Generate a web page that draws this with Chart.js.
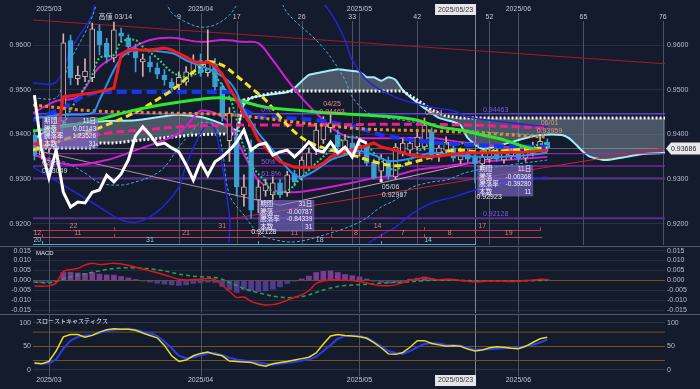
<!DOCTYPE html>
<html lang="ja">
<head>
<meta charset="utf-8">
<title>EUR/CHF 日足チャート</title>
<script src="https://cdn.jsdelivr.net/npm/chart.js@4.4.1/dist/chart.umd.min.js"></script>
<style>
  html, body { margin: 0; padding: 0; background: #141b2d; }
  #wrap { position: relative; width: 700px; height: 389px; background: #141b2d; overflow: hidden; }
  canvas { position: absolute; left: 0; }
  #cMain { top: 0; }
  #cMacd { top: 247px; }
  #cStoch { top: 315px; }
  .sep { position: absolute; left: 0; width: 700px; height: 1px; background: #535a6b; }
</style>
</head>
<body>
<div id="wrap">
  <canvas id="cMain" width="700" height="246"></canvas>
  <div class="sep" style="top:246px"></div>
  <canvas id="cMacd" width="700" height="67"></canvas>
  <div class="sep" style="top:314px"></div>
  <canvas id="cStoch" width="700" height="74"></canvas>
</div>
<script>
// ---- data (bar index 0 = 2025/02/27, 71 = 2025/06/06) ----
const xMin = -0.2, xMax = 87.3;
const monthMarks = [[2, '2025/03'], [23, '2025/04'], [45, '2025/05'], [67, '2025/06']];
const countMarks = [[20, '9'], [28, '17'], [37, '26'], [44, '33'], [53, '42'], [63, '52'], [76, '65'], [87, '76']];
const cursorIndex = 61;
const cursorLabel = '2025/05/23';
const currentPrice = 0.93686;

const candleOpen = [0.9399,0.9354,0.9370,0.9395,0.9430,0.9610,0.9525,0.9529,0.9527,0.9631,
  0.9604,0.9571,0.9627,0.9616,0.9593,0.9562,0.9562,0.9549,0.9533,0.9517,
  0.9511,0.9517,0.9540,0.9565,0.9538,0.9558,0.9507,0.9386,0.9394,0.9265,
  0.9372,0.9254,0.9274,0.9265,0.9292,0.9270,0.9312,0.9305,0.9327,0.9365,
  0.9388,0.9415,0.9399,0.9365,0.9381,0.9361,0.9372,0.9338,0.9318,0.9341,
  0.9305,0.9360,0.9365,0.9372,0.9372,0.9406,0.9350,0.9365,0.9370,0.9343,
  0.9361,0.9352,0.9334,0.9345,0.9363,0.9343,0.9352,0.9365,0.9347,0.9358,
  0.9370,0.9383];
const candleHigh = [0.9410,0.9385,0.9405,0.9440,0.9625,0.9622,0.9553,0.9569,0.9649,0.9645,
  0.9615,0.9651,0.9638,0.9623,0.9602,0.9580,0.9575,0.9560,0.9545,0.9525,
  0.9540,0.9552,0.9578,0.9580,0.9634,0.9570,0.9515,0.9460,0.9410,0.9310,
  0.9388,0.9298,0.9300,0.9305,0.9300,0.9318,0.9320,0.9350,0.9370,0.9425,
  0.9440,0.9446,0.9410,0.9400,0.9392,0.9388,0.9380,0.9345,0.9355,0.9350,
  0.9380,0.9390,0.9392,0.9405,0.9437,0.9415,0.9380,0.9395,0.9378,0.9370,
  0.9368,0.9360,0.9360,0.9370,0.9372,0.9365,0.9372,0.9374,0.9370,0.9383,
  0.9396,0.9390];
const candleLow = [0.9343,0.9345,0.9360,0.9385,0.9420,0.9511,0.9511,0.9518,0.9518,0.9578,
  0.9560,0.9562,0.9607,0.9578,0.9540,0.9530,0.9540,0.9525,0.9510,0.9495,
  0.9498,0.9510,0.9535,0.9530,0.9530,0.9500,0.9430,0.9340,0.9262,0.9240,
  0.9213,0.9225,0.9262,0.9255,0.9258,0.9262,0.9285,0.9298,0.9320,0.9355,
  0.9380,0.9405,0.9365,0.9358,0.9350,0.9352,0.9330,0.9300,0.9297,0.9300,
  0.9300,0.9352,0.9358,0.9365,0.9365,0.9343,0.9340,0.9358,0.9340,0.9335,
  0.9338,0.9292,0.9325,0.9338,0.9340,0.9336,0.9345,0.9340,0.9340,0.9352,
  0.9363,0.9362];
const candleClose = [0.9354,0.9370,0.9395,0.9425,0.9605,0.9527,0.9532,0.9542,0.9636,0.9600,
  0.9573,0.9634,0.9620,0.9596,0.9571,0.9569,0.9551,0.9535,0.9522,0.9504,
  0.9528,0.9540,0.9562,0.9538,0.9565,0.9507,0.9440,0.9448,0.9283,0.9283,
  0.9231,0.9283,0.9288,0.9292,0.9265,0.9310,0.9294,0.9343,0.9359,0.9410,
  0.9426,0.9426,0.9372,0.9388,0.9359,0.9375,0.9336,0.9303,0.9347,0.9307,
  0.9372,0.9381,0.9381,0.9394,0.9421,0.9350,0.9370,0.9383,0.9347,0.9361,
  0.9345,0.9334,0.9352,0.9361,0.9345,0.9358,0.9365,0.9347,0.9363,0.9374,
  0.9385,0.9369];

// chikou span (white line), index 0..46
const chikouSpan = [0.9488,0.9365,0.9303,0.9365,0.9271,0.9238,0.9249,0.9247,0.9271,0.9276,
  0.9309,0.9294,0.9312,0.9343,0.9397,0.9417,0.9399,0.9377,0.9381,0.9370,
  0.9361,0.9332,0.9298,0.9339,0.9309,0.9339,0.9350,0.9365,0.9383,0.9410,
  0.9365,0.9377,0.9381,0.9354,0.9361,0.9365,0.9350,0.9365,0.9383,0.9365,
  0.9361,0.9383,0.9359,0.9372,0.9350,0.9388,0.9381];

// indicator lines as [bar index, price]
const tenkanLine = [[0,0.9378],[3,0.9385],[4,0.9484],[8,0.9493],[10,0.9499],[11,0.9504],[12,0.9578],[13,0.9589],[16,0.9589],[18,0.9593],[19,0.9589],[21,0.9573],[22,0.9564],[23,0.9560],[24,0.9562],[25,0.9553],[26,0.9535],[27,0.9504],[28,0.9477],[29,0.9444],[30,0.9421],[31,0.9388],[33,0.9354],[34,0.9339],[36,0.9327],[39,0.9327],[40,0.9336],[41,0.9350],[43,0.9361],[45,0.9370],[47,0.9381],[48,0.9372],[50,0.9365],[52,0.9354],[54,0.9350],[56,0.9352],[58,0.9356],[60,0.9359],[64,0.9359],[68,0.9361],[71,0.9365]];
const kijunLine = [[0,0.9437],[4,0.9444],[8,0.9448],[9,0.9477],[10,0.9511],[11,0.9544],[12,0.9571],[13,0.9584],[14,0.9589],[19,0.9582],[21,0.9566],[23,0.9553],[25,0.9540],[27,0.9517],[28,0.9493],[29,0.9455],[30,0.9428],[31,0.9403],[33,0.9365],[35,0.9325],[36,0.9309],[37,0.9305],[39,0.9321],[41,0.9343],[43,0.9354],[45,0.9363],[47,0.9354],[49,0.9341],[51,0.9343],[53,0.9350],[55,0.9359],[58,0.9354],[62,0.9350],[67,0.9352],[71,0.9359]];
const spanA = [[-0.2,0.9388],[2,0.9412],[4,0.9421],[7,0.9426],[10,0.9430],[14,0.9432],[18,0.9441],[20,0.9444],[23,0.9439],[25,0.9430],[27,0.9417],[28,0.9410],[29,0.9466],[30,0.9482],[32,0.9488],[35,0.9495],[36,0.9504],[38,0.9533],[40,0.9540],[42,0.9546],[43,0.9544],[45,0.9540],[46,0.9528],[47,0.9528],[48,0.9520],[49,0.9528],[50,0.9522],[51,0.9499],[52,0.9484],[54,0.9459],[56,0.9437],[58,0.9428],[59,0.9421],[60,0.9392],[62,0.9368],[64,0.9374],[66,0.9383],[68,0.9392],[70,0.9399],[73,0.9399],[74,0.9392],[75,0.9377],[76,0.9361],[77,0.9350],[79,0.9343],[82,0.9350],[84,0.9356],[87.3,0.9359]];
const spanB = [[-0.2,0.9370],[8,0.9370],[9,0.9381],[11,0.9381],[15,0.9388],[22,0.9399],[25,0.9401],[28,0.9401],[29,0.9477],[31,0.9486],[33,0.9493],[36,0.9497],[51,0.9497],[53,0.9477],[55,0.9455],[57,0.9441],[59,0.9437],[87.3,0.9437]];
const maLong = [[-0.2,0.9408],[4,0.9417],[8,0.9430],[14,0.9455],[19,0.9470],[23,0.9479],[26,0.9482],[28,0.9477],[32,0.9461],[36,0.9455],[41,0.9448],[45,0.9444],[50,0.9439],[53,0.9432],[56,0.9417],[59,0.9410],[62,0.9399],[65,0.9388],[68,0.9372],[71,0.9361]];
const maYellow = [[-0.2,0.9365],[4,0.9388],[9,0.9415],[14,0.9450],[18,0.9488],[20,0.9511],[22,0.9540],[24,0.9562],[26,0.9555],[28,0.9531],[30,0.9504],[32,0.9477],[34,0.9439],[36,0.9406],[38,0.9383],[41,0.9365],[44,0.9354],[47,0.9339],[50,0.9330],[52,0.9336],[55,0.9350],[58,0.9365],[62,0.9361],[66,0.9365],[71,0.9370]];
const maOrange = [[-0.2,0.9466],[8,0.9453],[18,0.9448],[27,0.9444],[36,0.9428],[41,0.9419],[46,0.9412],[55,0.9408],[62,0.9403],[71,0.9394]];
const maPink = [[-0.2,0.9379],[5,0.9388],[10,0.9403],[15,0.9410],[20,0.9417],[27,0.9421],[40,0.9421],[50,0.9423],[60,0.9421],[71,0.9414]];
const midBlue = [[-0.2,0.9432],[4,0.9459],[7,0.9488],[9,0.9495],[27,0.9495],[29,0.9455],[31,0.9439],[37,0.9435],[40,0.9430],[44,0.9419],[48,0.9399],[52,0.9388],[56,0.9381],[60,0.9377],[65,0.9374],[71,0.9372]];
const maShort = [[-0.2,0.9365],[3,0.9388],[5,0.9455],[8,0.9533],[9,0.9571],[11,0.9578],[12,0.9607],[14,0.9611],[15,0.9596],[17,0.9571],[19,0.9540],[21,0.9528],[22,0.9533],[24,0.9544],[25,0.9531],[27,0.9484],[28,0.9432],[29,0.9370],[30,0.9332],[32,0.9294],[33,0.9271],[35,0.9274],[37,0.9305],[39,0.9336],[41,0.9365],[43,0.9392],[45,0.9392],[47,0.9359],[49,0.9327],[50,0.9321],[52,0.9343],[54,0.9372],[56,0.9381],[58,0.9377],[60,0.9381],[64,0.9365],[68,0.9372],[71,0.9381]];
const band2Upper = [[-0.2,0.9448],[3,0.9475],[6,0.9484],[9,0.9551],[13,0.9589],[16,0.9611],[19,0.9616],[23,0.9607],[26,0.9611],[29,0.9607],[31,0.9604],[33,0.9566],[35,0.9522],[37,0.9482],[39,0.9448],[41,0.9417],[43,0.9397],[45,0.9392],[51,0.9392],[55,0.9392],[59,0.9383],[64,0.9374],[71,0.9365]];
const band2Lower = [[-0.2,0.9354],[5,0.9332],[10,0.9343],[14,0.9365],[18,0.9388],[20,0.9403],[22,0.9437],[23,0.9453],[25,0.9448],[27,0.9426],[28,0.9388],[30,0.9325],[31,0.9298],[33,0.9276],[36,0.9271],[40,0.9280],[44,0.9292],[47,0.9303],[50,0.9309],[53,0.9321],[56,0.9327],[60,0.9336],[65,0.9343],[71,0.9350]];
const band3Upper = [[-0.2,0.9482],[3,0.9482],[4,0.9522],[5,0.9566],[7,0.9627],[8,0.9663],[9,0.9700],[14,0.9760],[18,0.9700],[19,0.9672],[21,0.9651],[23,0.9640],[25,0.9645],[27,0.9667],[28,0.9689],[30,0.9730],[33,0.9730],[35,0.9672],[39,0.9611],[41,0.9573],[43,0.9522],[44,0.9484],[46,0.9450],[48,0.9439],[51,0.9432],[55,0.9421],[60,0.9410],[65,0.9403],[71,0.9399]];
const band3Lower = [[-0.2,0.9354],[4,0.9339],[7,0.9314],[9,0.9292],[12,0.9287],[14,0.9294],[16,0.9305],[18,0.9327],[20,0.9372],[22,0.9410],[23,0.9426],[25,0.9421],[26,0.9365],[27,0.9265],[29,0.9220],[31,0.9180],[33,0.9166],[36,0.9160],[40,0.9175],[45,0.9204],[48,0.9238],[50,0.9254],[52,0.9280],[55,0.9294],[57,0.9298],[60,0.9316],[65,0.9330],[71,0.9343]];
const envUpper = [[-0.2,0.9515],[3,0.9517],[5,0.9589],[6,0.9616],[8,0.9667],[9,0.9720],[20,0.9800],[38,0.9720],[41,0.9672],[43,0.9611],[44,0.9566],[46,0.9522],[48,0.9499],[51,0.9477],[55,0.9461],[58,0.9453],[60,0.9439],[65,0.9428],[71,0.9417]];
const envLower = [[-0.2,0.9327],[4,0.9287],[9,0.9238],[12,0.9209],[14,0.9204],[16,0.9216],[18,0.9242],[20,0.9283],[21,0.9332],[23,0.9403],[24,0.9421],[25,0.9410],[26,0.9332],[27,0.9220],[28,0.9100],[44,0.9100],[46,0.9153],[48,0.9175],[50,0.9193],[52,0.9220],[55,0.9247],[58,0.9260],[61,0.9276],[65,0.9292],[71,0.9305]];
const resistLine = [[-0.2,0.9656],[87.3,0.9558]];
const supportLine = [[27,0.9211],[87.3,0.9370]];
const pinkDownLine = [[-0.2,0.9366],[34,0.9242]];
const pinkUpLine = [[34,0.9242],[71,0.9374]];
const fibLevels = [0.94463, 0.93571, 0.93296, 0.93020, 0.92128];
const fibNames = ['0%', '', '50%', '61.8%', ''];

// day-count cycles [from, to, label]
const highCycle = [[-10,11,'22'],[11,41,'31'],[41,54,'14'],[54,70,'17']];
const swingCycle = [[-10,1,'12'],[1,11,'11'],[11,31,'21'],[31,41,'11'],[41,48,'8'],[48,54,'7'],[54,61,'8'],[61,79,'19']];
const lowCycle = [[-18,1,'20'],[1,31,'31'],[31,48,'18'],[48,61,'14']];

const priceNotes = [
  { i: 11.2, v: 0.96626, lines: ['高値 03/14'], color: '#d2d4dc', align: 'center' },
  { i: 41.2, v: 0.94682, lines: ['04/25', '0.94463'], color: '#e59078', align: 'center' },
  { i: 55.3, v: 0.94480, lines: ['05/14'], color: '#e59078', align: 'center' },
  { i: 71.3, v: 0.94257, lines: ['06/01', '0.93959'], color: '#e59078', align: 'center' },
  { i: 48.1, v: 0.92827, lines: ['05/06', '0.92967'], color: '#cfd3dc', align: 'left' },
  { i: 1.05, v: 0.93363, lines: ['02/28', '0.93049'], color: '#cfd3dc', align: 'left' },
  { i: 30.0, v: 0.91821, lines: ['0.92128'], color: '#e6e6ee', align: 'left' },
  { i: 61.2, v: 0.92603, lines: ['0.92923'], color: '#e6e6ee', align: 'left' }
];
const infoBoxes = [
  { i: 1.05, v: 0.94391, rows: [['期間','11日'],['騰落','0.01143'],['騰落率','1.23526'],['本数','31']] },
  { i: 31.0, v: 0.92536, rows: [['期間','31日'],['騰落','-0.00787'],['騰落率','-0.84339'],['本数','31']] },
  { i: 61.3, v: 0.93318, rows: [['期間','11日'],['騰落','-0.00368'],['騰落率','-0.39280'],['本数','11']] }
];

const macdLine = [-0.0027,-0.0029,-0.0027,-0.0012,0.0045,0.0055,0.0060,0.0078,0.0087,0.0080,
  0.0083,0.0087,0.0083,0.0077,0.0066,0.0058,0.0048,0.0039,0.0028,0.0017,
  0.0006,0.0003,0.0005,0.0006,0.0010,0.0005,-0.0025,-0.0055,-0.0085,-0.0083,
  -0.0105,-0.0117,-0.0123,-0.0121,-0.0113,-0.0099,-0.0085,-0.0072,-0.0050,-0.0015,
  -0.0002,0.0003,0.0003,0.0002,0.0000,-0.0005,-0.0012,-0.0022,-0.0025,-0.0026,
  -0.0022,-0.0012,0.0000,0.0006,0.0015,0.0008,0.0003,0.0006,0.0005,0.0000,
  -0.0004,-0.0007,-0.0005,-0.0003,-0.0002,-0.0004,-0.0005,-0.0004,-0.0001,0.0001,
  0.0006,0.0005];
const signalLine = [-0.0008,-0.0011,-0.0013,-0.0006,0.0008,0.0018,0.0026,0.0033,0.0041,0.0048,
  0.0055,0.0060,0.0063,0.0064,0.0063,0.0061,0.0058,0.0054,0.0048,0.0040,
  0.0032,0.0026,0.0021,0.0019,0.0017,0.0015,0.0006,-0.0010,-0.0025,-0.0040,
  -0.0052,-0.0062,-0.0070,-0.0078,-0.0083,-0.0087,-0.0084,-0.0080,-0.0072,-0.0060,
  -0.0048,-0.0038,-0.0030,-0.0025,-0.0023,-0.0021,-0.0019,-0.0017,-0.0013,-0.0011,
  -0.0009,-0.0008,-0.0006,-0.0003,-0.0001,0.0001,0.0001,0.0002,0.0002,0.0001,
  0.0000,-0.0002,-0.0002,-0.0002,-0.0002,-0.0003,-0.0003,-0.0003,-0.0002,-0.0001,
  0.0000,0.0001];
const macdHist = [-0.0008,-0.0012,-0.0010,-0.0006,0.0040,0.0042,0.0038,0.0036,0.0040,0.0032,
  0.0028,0.0027,0.0020,0.0013,0.0005,-0.0002,-0.0008,-0.0014,-0.0018,-0.0022,
  -0.0025,-0.0022,-0.0015,-0.0012,-0.0008,-0.0010,-0.0030,-0.0045,-0.0060,-0.0045,
  -0.0052,-0.0055,-0.0052,-0.0044,-0.0032,-0.0015,-0.0003,0.0008,0.0022,0.0040,
  0.0046,0.0048,0.0040,0.0030,0.0024,0.0018,0.0008,-0.0004,-0.0010,-0.0014,
  -0.0012,-0.0004,0.0007,0.0012,0.0018,0.0010,0.0003,0.0004,0.0003,-0.0001,
  -0.0004,-0.0005,-0.0003,-0.0001,0.0000,-0.0001,-0.0002,-0.0001,0.0001,0.0002,
  0.0005,0.0004];
const macdTicks = [-0.015,-0.010,-0.005,0,0.005,0.010,0.015];

const stochK = [15,13,18,40,70,75,75,69,73,80,85,87,86,86,84,78,73,68,52,30,
  18,21,30,35,38,33,30,19,18,17,16,11,8,13,16,18,21,24,27,36,
  55,72,75,73,72,70,67,58,47,34,33,37,48,62,62,56,53,50,51,50,
  44,40,42,47,49,48,46,45,50,58,66,69];
const stochD = [14,13,14,22,45,62,70,73,74,78,82,85,86,87,85,81,78,72,60,46,
  30,25,27,31,35,36,31,26,22,20,18,16,13,11,13,15,17,20,22,28,
  40,53,66,72,73,72,68,60,50,40,36,34,40,48,55,57,56,53,52,51,
  47,43,43,44,45,46,47,48,50,53,58,64];
const stochLevels = [20, 80];
const stochTicks = [0, 50, 100];
const mainTicks = [0.92, 0.93, 0.94, 0.95, 0.96];

// ---- styling ----
const FONT = "'Liberation Sans', 'Noto Sans CJK JP', sans-serif";
const BG = '#141b2d';
const UP = '#d4b0b0', DOWN = '#3d9dd4';
Chart.defaults.font.family = FONT;
Chart.defaults.font.size = 7;
Chart.defaults.color = '#b9bec9';

function px(chart, i) { return chart.scales.x.getPixelForValue(i); }
function py(chart, v) { return chart.scales.y.getPixelForValue(v); }
function pts(pairs) { return pairs.map(p => ({ x: p[0], y: p[1] })); }

function line(pairs, color, width, opts) {
  return Object.assign({
    type: 'line', data: pts(pairs), borderColor: color, borderWidth: width,
    pointRadius: 0, fill: false, tension: 0.35, order: 2
  }, opts || {});
}

function yAxis(pos, min, max, ticks, fmt, showGrid, gridColor) {
  return {
    position: pos, min: min, max: max,
    afterBuildTicks: s => { s.ticks = ticks.map(v => ({ value: v })); },
    afterFit: s => { s.width = pos === 'left' ? 33 : 35; s.paddingTop = 0; s.paddingBottom = 0; },
    grid: { display: showGrid, color: gridColor || '#262e3f', drawTicks: false },
    border: { display: false },
    ticks: { padding: 2, autoSkip: false, color: '#b9bec9', font: { size: 7 }, callback: fmt }
  };
}

function vline(ctx, x, y0, y1) {
  const xx = Math.round(x) + 0.5;
  ctx.beginPath(); ctx.moveTo(xx, y0); ctx.lineTo(xx, y1); ctx.stroke();
}

function drawCycleRow(chart, segs, y, endIdx, lineColor, textColor) {
  const ctx = chart.ctx, a = chart.chartArea;
  const xEnd = px(chart, endIdx);
  ctx.strokeStyle = lineColor; ctx.fillStyle = textColor; ctx.lineWidth = 1;
  ctx.textAlign = 'center'; ctx.textBaseline = 'middle';
  segs.forEach(s => {
    const x0 = Math.max(a.left, px(chart, s[0]));
    const x1 = Math.min(xEnd, px(chart, s[1]));
    if (x1 <= x0) return;
    ctx.beginPath(); ctx.moveTo(x0, y + 0.5); ctx.lineTo(x1, y + 0.5); ctx.stroke();
    [s[0], s[1]].forEach(b => {
      const bx = px(chart, b);
      if (bx >= a.left && bx <= xEnd) vline(ctx, bx, y - 3, y + 1);
    });
    ctx.fillText(s[2], (x0 + x1) / 2, y - 3.5);
  });
}

const mainDecor = {
  id: 'mainDecor',
  beforeDatasetsDraw(chart) {
    const ctx = chart.ctx, a = chart.chartArea;
    ctx.save();
    ctx.lineWidth = 1;
    ctx.strokeStyle = '#4b5264';
    monthMarks.forEach(m => vline(ctx, px(chart, m[0]), 13, a.bottom + 2));
    countMarks.forEach(m => vline(ctx, px(chart, m[0]), 21, a.bottom + 2));
    ctx.strokeStyle = '#7d8394';
    vline(ctx, px(chart, cursorIndex), 15, a.bottom + 2);
    ctx.restore();
  },
  afterDatasetsDraw(chart) {
    const ctx = chart.ctx, a = chart.chartArea;
    ctx.save();
    ctx.font = '7px ' + FONT;
    ctx.textBaseline = 'middle';

    // fibonacci / level labels
    ctx.textAlign = 'left';
    ctx.fillStyle = '#9658e0';
    fibLevels.forEach((v, k) => { if (fibNames[k]) ctx.fillText(fibNames[k], px(chart, 31.4), py(chart, v) - 4); });
    ctx.fillStyle = '#7c5ce0';
    ctx.fillText('0.94463', px(chart, 62.1), py(chart, fibLevels[0]) - 4);
    ctx.fillText('0.92128', px(chart, 62.1), py(chart, fibLevels[4]) - 4);

    // day-count rows
    drawCycleRow(chart, highCycle, a.bottom - 13, 70.3, '#c5334a', '#e07c84');
    drawCycleRow(chart, swingCycle, a.bottom - 6, 70.3, '#b84456', '#e07c84');
    drawCycleRow(chart, lowCycle, a.bottom + 1, 61, '#5aa6c6', '#8ec8e0');

    // info boxes
    ctx.font = '6.5px ' + FONT;
    infoBoxes.forEach(b => {
      const x = px(chart, b.i), y = py(chart, b.v);
      const w = 56, rh = 7.6;
      ctx.fillStyle = 'rgba(128,108,205,0.62)';
      ctx.fillRect(x, y, w, rh * 4 + 1);
      ctx.fillStyle = '#f2f0ff';
      b.rows.forEach((r, k) => {
        const ty = y + rh * (k + 0.5) + 0.5;
        ctx.textAlign = 'left'; ctx.fillText(r[0], x + 2, ty);
        ctx.textAlign = 'right'; ctx.fillText(r[1], x + w - 2, ty);
      });
    });
    ctx.font = '7px ' + FONT;

    // price notes
    priceNotes.forEach(n => {
      ctx.fillStyle = n.color; ctx.textAlign = n.align;
      n.lines.forEach((t, k) => ctx.fillText(t, px(chart, n.i), py(chart, n.v) + k * 8));
    });
    ctx.fillStyle = '#e8e8f0';
    ctx.fillRect(px(chart, 48) - 1.5, py(chart, candleLow[48]) - 1.5, 3, 3);

    // top date labels
    ctx.fillStyle = '#c3c7d0'; ctx.textAlign = 'center';
    monthMarks.forEach(m => ctx.fillText(m[1], px(chart, m[0]), 9));
    countMarks.forEach(m => ctx.fillText(m[1], px(chart, m[0]), 17));
    const cx = px(chart, cursorIndex);
    ctx.fillStyle = '#e6e6ea'; ctx.fillRect(cx - 40, 4, 41, 11);
    ctx.fillStyle = '#333'; ctx.fillText(cursorLabel, cx - 19.5, 10);
    ctx.restore();
  },
  afterDraw(chart) {
    const ctx = chart.ctx, a = chart.chartArea;
    const y = py(chart, currentPrice);
    ctx.save();
    ctx.fillStyle = '#e9e9ec';
    ctx.beginPath();
    ctx.moveTo(a.right + 1, y); ctx.lineTo(a.right + 6, y - 6); ctx.lineTo(700, y - 6);
    ctx.lineTo(700, y + 6); ctx.lineTo(a.right + 6, y + 6); ctx.closePath(); ctx.fill();
    ctx.fillStyle = '#222'; ctx.font = '7px ' + FONT; ctx.textAlign = 'left'; ctx.textBaseline = 'middle';
    ctx.fillText(currentPrice.toFixed(5), a.right + 6, y + 0.5);
    ctx.restore();
  }
};

function lowerDecor(title, withDates) {
  return {
    id: 'lowerDecor',
    beforeDatasetsDraw(chart) {
      const ctx = chart.ctx, a = chart.chartArea;
      ctx.save(); ctx.lineWidth = 1;
      ctx.strokeStyle = '#4b5264';
      monthMarks.forEach(m => vline(ctx, px(chart, m[0]), 0, a.bottom));
      ctx.strokeStyle = '#7d8394';
      vline(ctx, px(chart, cursorIndex), 0, a.bottom);
      ctx.restore();
    },
    afterDraw(chart) {
      const ctx = chart.ctx, a = chart.chartArea;
      ctx.save();
      ctx.font = '6px ' + FONT; ctx.fillStyle = '#e4e6ee';
      ctx.textAlign = 'left'; ctx.textBaseline = 'middle';
      ctx.fillText(title, a.left + 3, 6);
      if (withDates) {
        ctx.font = '7px ' + FONT; ctx.fillStyle = '#c3c7d0'; ctx.textAlign = 'center';
        monthMarks.forEach(m => ctx.fillText(m[1], px(chart, m[0]), 65.5));
        const cx = px(chart, cursorIndex);
        ctx.fillStyle = '#e6e6ea'; ctx.fillRect(cx - 40, 60, 41, 11);
        ctx.fillStyle = '#333'; ctx.fillText(cursorLabel, cx - 19.5, 65.5);
      }
      ctx.restore();
    }
  };
}

// ---- main price chart ----
const idx = candleOpen.map((_, i) => i);
const isUp = i => candleClose[i] >= candleOpen[i];
const cloudFill = 'rgba(150,168,178,0.42)';
const mainMin = 0.915754, mainMax = 0.968939;

const mainDatasets = [
  line(chikouSpan.map((v, i) => [i, v]), '#ffffff', 3, { tension: 0, order: 1 }),
  line(tenkanLine, '#ee1c1c', 3, { tension: 0, order: 1 }),
  line(kijunLine, '#2f8ff0', 2, { tension: 0.3, order: 1 }),
  line(maLong, '#2ee82e', 3, { order: 2 }),
  line(maYellow, '#f2e226', 3, { borderDash: [7, 4], order: 2 }),
  line(maOrange, '#ee8a24', 3, { borderDash: [3, 3], order: 2 }),
  line(maPink, '#f2208e', 3, { borderDash: [8, 4], order: 2 }),
  line(midBlue, '#1634f2', 4, { borderDash: [10, 5], tension: 0, order: 2 }),
  line(maShort, '#33d27c', 2, { borderDash: [2, 2], order: 2 }),
  {
    type: 'bar', order: 3, grouped: false, barThickness: 5,
    data: idx.map(i => ({ x: i, y: [candleOpen[i], candleClose[i]] })),
    backgroundColor: idx.map(i => isUp(i) ? BG : DOWN),
    borderColor: idx.map(i => isUp(i) ? UP : DOWN),
    borderWidth: 1, borderSkipped: false
  },
  {
    type: 'bar', order: 4, grouped: false, barThickness: 1,
    data: idx.map(i => ({ x: i, y: [candleLow[i], candleHigh[i]] })),
    backgroundColor: idx.map(i => isUp(i) ? UP : DOWN)
  },
  line(band2Upper, '#d21ed2', 2, { order: 5 }),
  line(band2Lower, '#d21ed2', 2, { order: 5 }),
  line(band3Upper, '#4aa8e0', 1, { borderDash: [3, 2], order: 5 }),
  line(band3Lower, '#4aa8e0', 1, { borderDash: [3, 2], order: 5 }),
  line(envUpper, '#2424d8', 1.5, { order: 5 }),
  line(envLower, '#2424d8', 1.5, { order: 5 }),
  line(resistLine, '#a8182c', 1, { tension: 0, order: 6 }),
  line(supportLine, '#c8202e', 1, { tension: 0, order: 6 }),
  line(pinkDownLine, '#b88a9a', 1, { tension: 0, order: 6 }),
  line(pinkUpLine, '#d4a4b4', 1, { tension: 0, order: 6 }),
  line([[xMin, currentPrice], [xMax, currentPrice]], 'rgba(200,205,215,0.4)', 1, { tension: 0, order: 6 }),
  line([[xMin, fibLevels[0]], [xMax, fibLevels[0]]], '#5a46d6', 1.5, { tension: 0, order: 6 }),
  line([[xMin, fibLevels[1]], [xMax, fibLevels[1]]], '#a52cc4', 1, { tension: 0, order: 6 }),
  line([[xMin, fibLevels[2]], [xMax, fibLevels[2]]], '#a52cc4', 1, { tension: 0, order: 6 }),
  line([[xMin, fibLevels[3]], [xMax, fibLevels[3]]], '#55308e', 2, { tension: 0, order: 6 }),
  line([[xMin, fibLevels[4]], [xMax, fibLevels[4]]], '#55308e', 2, { tension: 0, order: 6 }),
  line(spanA, '#9ef0f8', 2, { tension: 0.2, order: 7, fill: { target: '+1' }, backgroundColor: cloudFill }),
  line(spanB, '#f4f4f4', 3, { tension: 0, order: 6, borderDash: [2, 2] })
];

new Chart(document.getElementById('cMain'), {
  type: 'bar',
  data: { datasets: mainDatasets },
  options: {
    responsive: false, animation: false, devicePixelRatio: 1,
    layout: { padding: { top: 5, bottom: 3, left: 0, right: 0 } },
    plugins: { legend: { display: false }, tooltip: { enabled: false } },
    scales: {
      x: { type: 'linear', min: xMin, max: xMax, display: false, offset: false },
      y: yAxis('left', mainMin, mainMax, mainTicks, v => v.toFixed(4), true),
      yr: yAxis('right', mainMin, mainMax, mainTicks, v => v.toFixed(4), false)
    }
  },
  plugins: [mainDecor]
});

// ---- MACD ----
const macdGrid = c => (c.tick && c.tick.value === 0) ? '#6b531c' : '#252d3e';
new Chart(document.getElementById('cMacd'), {
  type: 'bar',
  data: {
    datasets: [
      line(macdLine.map((v, i) => [i, v]), '#e21616', 1.5, { order: 1, tension: 0.3 }),
      line(signalLine.map((v, i) => [i, v]), '#23a05c', 1.5, { order: 2, tension: 0.3, borderDash: [4, 3] }),
      {
        type: 'bar', order: 3, barThickness: 5, grouped: false,
        data: idx.map(i => ({ x: i, y: macdHist[i] })),
        backgroundColor: idx.map(i => macdHist[i] >= 0 ? '#7a3c92' : '#4e3c8e')
      }
    ]
  },
  options: {
    responsive: false, animation: false, devicePixelRatio: 1,
    layout: { padding: { top: 1, bottom: 1, left: 0, right: 0 } },
    plugins: { legend: { display: false }, tooltip: { enabled: false } },
    scales: {
      x: { type: 'linear', min: xMin, max: xMax, display: false, offset: false },
      y: yAxis('left', -0.0163, 0.0163, macdTicks, v => v.toFixed(3), true, macdGrid),
      yr: yAxis('right', -0.0163, 0.0163, macdTicks, v => v.toFixed(3), false)
    }
  },
  plugins: [lowerDecor('MACD', false)]
});

// ---- slow stochastics ----
const stochGrid = c => (c.tick && c.tick.value === 50) ? '#6f5519' : '#2a3243';
new Chart(document.getElementById('cStoch'), {
  type: 'line',
  data: {
    datasets: [
      line(stochK.map((v, i) => [i, v]), '#e6dc2a', 1.5, { order: 1, tension: 0 }),
      line(stochD.map((v, i) => [i, v]), '#2a3cf0', 2, { order: 2, tension: 0 }),
      line([[xMin, stochLevels[0]], [xMax, stochLevels[0]]], '#6f5519', 1, { order: 3, tension: 0 }),
      line([[xMin, stochLevels[1]], [xMax, stochLevels[1]]], '#6f5519', 1, { order: 3, tension: 0 })
    ]
  },
  options: {
    responsive: false, animation: false, devicePixelRatio: 1,
    layout: { padding: { top: 1, bottom: 13, left: 0, right: 0 } },
    plugins: { legend: { display: false }, tooltip: { enabled: false } },
    scales: {
      x: { type: 'linear', min: xMin, max: xMax, display: false, offset: false },
      y: yAxis('left', -12.7, 114, stochTicks, v => String(v), true, stochGrid),
      yr: yAxis('right', -12.7, 114, stochTicks, v => String(v), false)
    }
  },
  plugins: [lowerDecor('スローストキャスティクス', true)]
});
</script>
</body>
</html>
